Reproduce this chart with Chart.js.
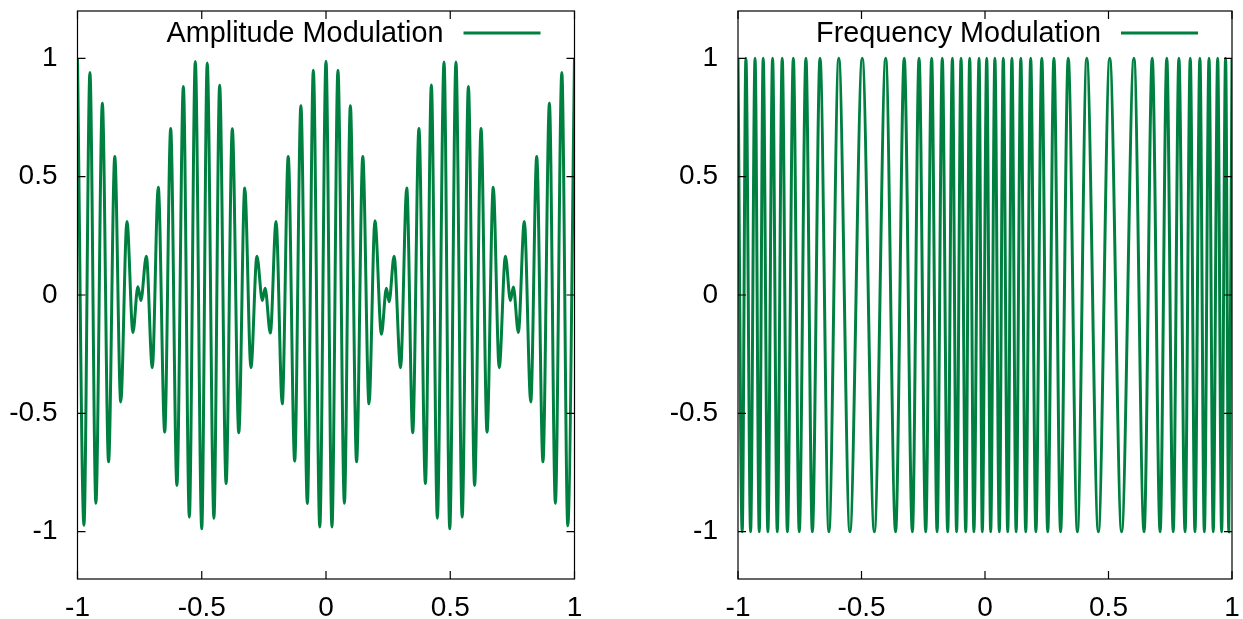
<!DOCTYPE html>
<html>
<head>
<meta charset="utf-8">
<script src="https://cdn.jsdelivr.net/npm/chart.js@4/dist/chart.umd.min.js"></script>
<style>
  html, body { margin: 0; padding: 0; background: #fff; }
  body { width: 1243px; height: 619px; position: relative; overflow: hidden; }
  .panel { position: absolute; top: 0; height: 619px; }
  #left-panel { left: 0; width: 600px; }
  #right-panel { left: 620px; width: 623px; }
</style>
</head>
<body>
<div class="panel" id="left-panel"><canvas id="am-chart"></canvas></div>
<div class="panel" id="right-panel"><canvas id="fm-chart"></canvas></div>
<script>
// tick labels
const xTickVals = [-1, -0.5, 0, 0.5, 1];
const yTickVals = [-1, -0.5, 0, 0.5, 1];

// amplitude modulation: peaks / troughs
const amX = [-1.000, -0.974, -0.950, -0.926, -0.900, -0.875, -0.850, -0.826, -0.801, -0.777,
  -0.757, -0.745, -0.723, -0.699, -0.675, -0.649, -0.625, -0.600, -0.574, -0.550,
  -0.526, -0.500, -0.478, -0.451, -0.428, -0.402, -0.377, -0.351, -0.327, -0.302,
  -0.278, -0.256, -0.245, -0.224, -0.201, -0.176, -0.152, -0.126, -0.101, -0.075,
  -0.051, -0.025, 0.000, 0.024, 0.048, 0.074, 0.098, 0.123, 0.148, 0.173,
  0.197, 0.223, 0.243, 0.254, 0.274, 0.300, 0.325, 0.349, 0.374, 0.400,
  0.424, 0.448, 0.475, 0.498, 0.523, 0.548, 0.573, 0.598, 0.624, 0.648,
  0.673, 0.697, 0.722, 0.742, 0.754, 0.774, 0.798, 0.824, 0.848, 0.873,
  0.899, 0.923, 0.949, 0.973, 1.000];
const amY = [1.00, -0.973, 0.94, -0.88, 0.81, -0.705, 0.585, -0.452, 0.311, -0.158,
  0.035, -0.023, 0.164, -0.307, 0.455, -0.579, 0.703, -0.805, 0.881, -0.938,
  0.987, -0.988, 0.98, -0.943, 0.886, -0.797, 0.702, -0.582, 0.452, -0.307,
  0.164, -0.023, 0.029, -0.161, 0.311, -0.46, 0.585, -0.702, 0.80, -0.881,
  0.95, -0.98, 0.988, -0.98, 0.95, -0.88, 0.80, -0.705, 0.585, -0.46,
  0.314, -0.166, 0.028, -0.028, 0.164, -0.307, 0.452, -0.582, 0.703, -0.797,
  0.887, -0.943, 0.985, -0.988, 0.985, -0.938, 0.881, -0.805, 0.703, -0.579,
  0.455, -0.307, 0.164, -0.023, 0.034, -0.158, 0.311, -0.452, 0.585, -0.705,
  0.81, -0.88, 0.94, -0.975, 1.00];

// frequency modulation: peaks / troughs
const fmX = [-1.000, -0.983, -0.968, -0.949, -0.931, -0.914, -0.898, -0.879, -0.860, -0.841,
  -0.821, -0.800, -0.776, -0.752, -0.725, -0.699, -0.668, -0.632, -0.592, -0.547,
  -0.497, -0.448, -0.402, -0.362, -0.327, -0.294, -0.267, -0.240, -0.216, -0.194,
  -0.173, -0.151, -0.132, -0.115, -0.097, -0.078, -0.062, -0.045, -0.024, -0.011,
  0.007, 0.023, 0.040, 0.058, 0.074, 0.092, 0.109, 0.126, 0.145, 0.165,
  0.185, 0.206, 0.230, 0.254, 0.279, 0.306, 0.337, 0.374, 0.412, 0.459,
  0.505, 0.553, 0.603, 0.644, 0.677, 0.709, 0.736, 0.762, 0.785, 0.810,
  0.831, 0.850, 0.870, 0.888, 0.907, 0.924, 0.942, 0.958, 0.974, 0.987, 1.000];
const fmY = [1, -1, 1, -1, 1, -1, 1, -1, 1, -1,
  1, -1, 1, -1, 1, -1, 1, -1, 1, -1,
  1, -1, 1, -1, 1, -1, 1, -1, 1, -1,
  1, -1, 1, -1, 1, -1, 1, -1, 1, -1,
  1, -1, 1, -1, 1, -1, 1, -1, 1, -1,
  1, -1, 1, -1, 1, -1, 1, -1, 1, -1,
  1, -1, 1, -1, 1, -1, 1, -1, 1, -1,
  1, -1, 1, -1, 1, -1, 1, -1, 1, -1, 1];

const lineColor = '#008040';
const fontFamily = "'Liberation Sans', Arial, Helvetica, sans-serif";
const fontSize = 28;
const keyFontSize = 28.8;

// gnuplot style box, inward ticks and in-plot key
const framePlugin = {
  id: 'frame',
  afterDatasetsDraw(chart) {
    const { ctx, chartArea: a, scales: { x, y } } = chart;
    ctx.save();
    ctx.strokeStyle = '#000';
    ctx.lineWidth = 1.2;
    ctx.strokeRect(a.left, a.top, a.right - a.left, a.bottom - a.top);
    ctx.beginPath();
    xTickVals.forEach(v => {
      const px = x.getPixelForValue(v);
      ctx.moveTo(px, a.bottom); ctx.lineTo(px, a.bottom - 8);
      ctx.moveTo(px, a.top); ctx.lineTo(px, a.top + 8);
    });
    yTickVals.forEach(v => {
      const py = y.getPixelForValue(v);
      ctx.moveTo(a.left, py); ctx.lineTo(a.left + 8, py);
      ctx.moveTo(a.right, py); ctx.lineTo(a.right - 8, py);
    });
    ctx.stroke();

    // key
    const ky = a.top + 22;
    ctx.font = `${keyFontSize}px ${fontFamily}`;
    ctx.fillStyle = '#000';
    ctx.textAlign = 'right';
    ctx.textBaseline = 'middle';
    ctx.fillText(chart.data.datasets[0].label, a.right - 131, ky + 1);
    ctx.strokeStyle = lineColor;
    ctx.lineWidth = 3;
    ctx.beginPath();
    ctx.moveTo(a.right - 111, ky);
    ctx.lineTo(a.right - 34, ky);
    ctx.stroke();
    ctx.restore();
  }
};

const makeChart = (canvasId, label, xs, ys, yAxisWidth, padRight) => {
  const points = xs.map((v, i) => ({ x: v, y: ys[i] }));
  return new Chart(document.getElementById(canvasId).getContext('2d'), {
    type: 'line',
    data: {
      datasets: [{
        label: label,
        data: points,
        borderColor: lineColor,
        borderWidth: 3,
        pointRadius: 0,
        fill: false,
        cubicInterpolationMode: 'monotone'
      }]
    },
    options: {
      responsive: true,
      maintainAspectRatio: false,
      animation: false,
      layout: { padding: { top: 11, right: padRight, left: 0, bottom: 0 } },
      plugins: { legend: { display: false }, tooltip: { enabled: false } },
      scales: {
        x: {
          type: 'linear',
          min: -1,
          max: 1,
          grid: { display: false, drawTicks: false },
          border: { display: false },
          afterBuildTicks: scale => { scale.ticks = xTickVals.map(v => ({ value: v })); },
          afterFit: scale => {
            scale.height = 40;
            scale.paddingLeft = 0;
            scale.paddingRight = 0;
          },
          ticks: {
            color: '#000',
            padding: 12,
            maxRotation: 0,
            autoSkip: false,
            callback: v => String(v),
            font: { family: fontFamily, size: fontSize }
          }
        },
        y: {
          type: 'linear',
          min: -1.2,
          max: 1.2,
          grid: { display: false, drawTicks: false },
          border: { display: false },
          afterBuildTicks: scale => { scale.ticks = yTickVals.map(v => ({ value: v })); },
          afterFit: scale => {
            scale.width = yAxisWidth;
            scale.paddingTop = 0;
            scale.paddingBottom = 0;
          },
          ticks: {
            color: '#000',
            padding: 20,
            callback: v => String(v),
            font: { family: fontFamily, size: fontSize }
          }
        }
      }
    },
    plugins: [framePlugin]
  });
};

makeChart('am-chart', 'Amplitude Modulation', amX, amY, 77.5, 25.5);
makeChart('fm-chart', 'Frequency Modulation', fmX, fmY, 118, 11);
</script>
</body>
</html>
